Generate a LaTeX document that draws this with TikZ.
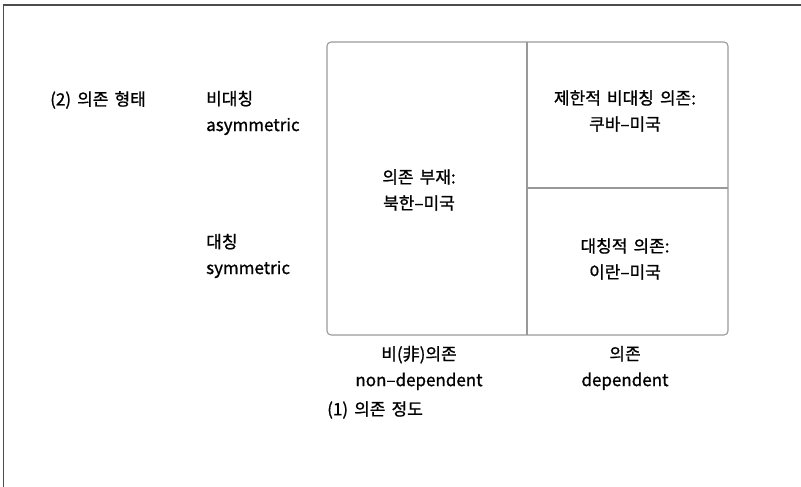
\documentclass[tikz,border=0pt]{standalone}
\usepackage{fontspec}
\setmainfont{Noto Sans CJK KR}[FakeBold=1, WordSpace=1.6]
\begin{document}
\begin{tikzpicture}[x=1pt,y=-1pt,
  lbl/.style={font=\fontsize{17}{26}\selectfont, inner sep=0pt, align=center},
  lbll/.style={lbl, anchor=west, align=left},
  grid/.style={draw=black!40, line width=1.1pt},
  frame/.style={draw=black!70, line width=1.6pt}]
\useasboundingbox (0,0) rectangle (801,487);
% outer frame (top and left only)
\coordinate (ftr) at (801,5);
\coordinate (ftl) at (3.5,5);
\coordinate (fbl) at (3.5,487);
\draw[frame] (ftr) -- (ftl) -- (fbl);
% box
\coordinate (bnw) at (327,42);
\coordinate (bse) at (728,335);
\coordinate (vt) at (527,42);
\coordinate (vb) at (527,335);
\coordinate (hl) at (527,188);
\coordinate (hr) at (728,188);
\draw[grid, rounded corners=4pt] (bnw) rectangle (bse);
\draw[grid] (vt) -- (vb);
\draw[grid] (hl) -- (hr);
% cell texts
\node[lbl] (c1) at (419,190) {의존 부재:\\북한–미국};
\node[lbl] (c2) at (625,111) {제한적 비대칭 의존:\\쿠바–미국};
\node[lbl] (c3) at (625,259) {대칭적 의존:\\이란–미국};
% left labels
\node[lbll] (t2) at (50,100) {(2) 의존 형태};
\node[lbll] (asy) at (206,113) {비대칭\\asymmetric};
\node[lbll] (sym) at (206,256) {대칭\\symmetric};
% bottom labels
\node[lbl] (nd) at (419,368) {비(非)의존\\non–dependent};
\node[lbl] (dep) at (625,368) {의존\\dependent};
\node[lbll] (t1) at (327,410) {(1) 의존 정도};
\end{tikzpicture}
\end{document}
